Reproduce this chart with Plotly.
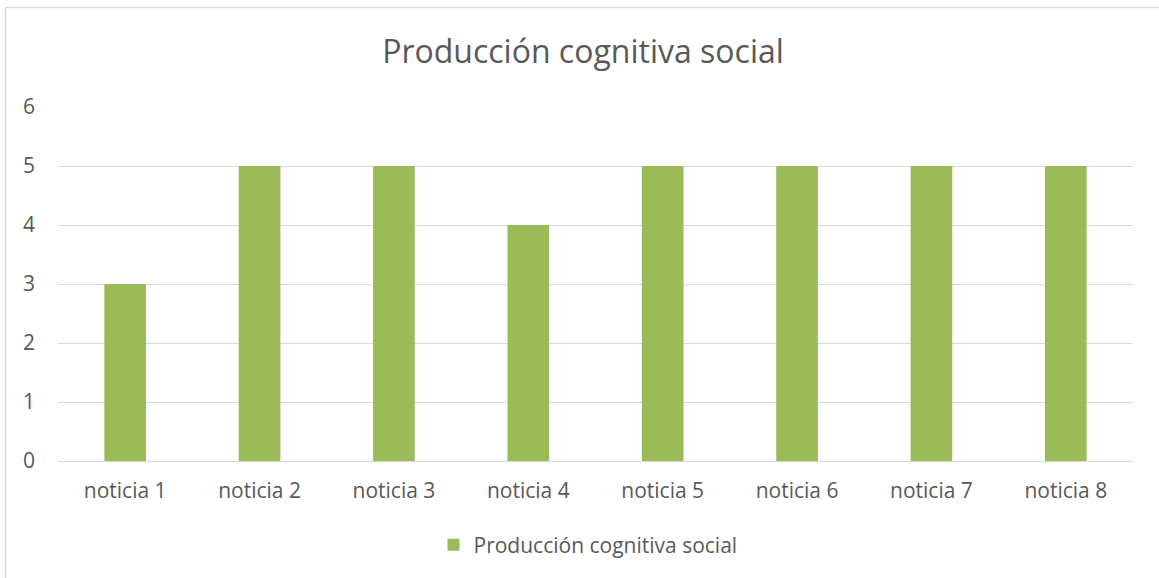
import plotly.graph_objects as go

categories = ["noticia 1", "noticia 2", "noticia 3", "noticia 4", "noticia 5", "noticia 6", "noticia 7", "noticia 8"]
values = [3, 5, 5, 4, 5, 5, 5, 5]
series_name = "Producción cognitiva social"
title_text = "Producción cognitiva social"

W, H = 1159, 578
L, R, T, B = 58, 26, 107, 117
pw = W - L - R
ph = H - T - B

def px_x(p):
    return (p - L) / pw

def px_y(p):
    return (H - B - p) / ph

fig = go.Figure()
fig.add_trace(go.Bar(x=categories, y=values, name=series_name, marker_color="#9BBB59",
                     marker_line_width=0, showlegend=True))

font_family = "Open Sans, Liberation Sans, sans-serif"
border = dict(color="#D9D9D9", width=1.5)
fig.update_layout(
    width=W, height=H,
    margin=dict(l=L, r=R, t=T, b=B),
    paper_bgcolor="white", plot_bgcolor="white",
    bargap=0.69,
    font=dict(family=font_family, color="#595959", size=21),
    title=dict(text=title_text, x=px_x(583), xanchor="center", y=1 - 52 / H, yanchor="middle",
               xref="paper",
               font=dict(size=32, color="#595959", family=font_family)),
    xaxis=dict(showgrid=False, showline=True, linecolor="#D9D9D9", linewidth=1,
               ticks="", tickfont=dict(size=21, color="#595959"), ticklabelstandoff=11),
    yaxis=dict(range=[0, 6], dtick=1, showgrid=True, gridcolor="#D9D9D9", gridwidth=1,
               zeroline=False, showline=False, ticks="",
               tickfont=dict(size=21, color="#595959"), ticklabelstandoff=22),
    legend=dict(orientation="h", x=px_x(588), xanchor="center", y=px_y(545), yanchor="middle",
                font=dict(size=21, color="#595959")),
    shapes=[
        dict(type="line", xref="paper", yref="paper",
             x0=px_x(5.5), x1=px_x(1159), y0=px_y(7.5), y1=px_y(7.5), line=border, layer="below"),
        dict(type="line", xref="paper", yref="paper",
             x0=px_x(5.5), x1=px_x(5.5), y0=px_y(7.5), y1=px_y(578), line=border, layer="below"),
    ],
)

fig.write_html("out.html", config={"displayModeBar": False},
               post_script="document.body.style.margin='0';")
